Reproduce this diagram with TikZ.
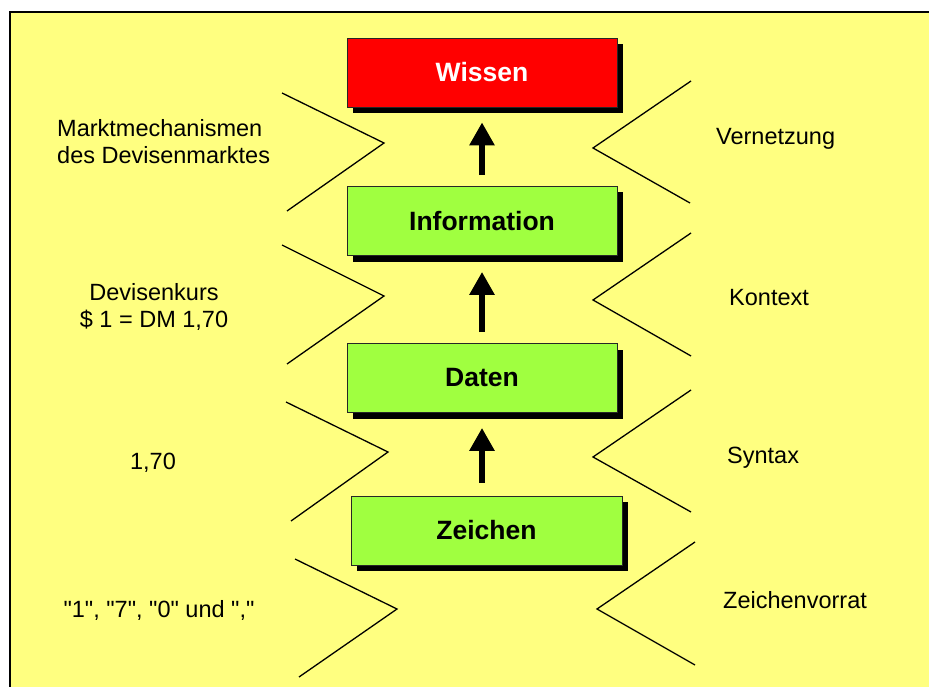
\documentclass[tikz,border=0pt]{standalone}
\usepackage{fontspec}
\setmainfont{Liberation Sans}
\usetikzlibrary{arrows.meta,shadows}
\definecolor{paper}{RGB}{255,255,128}
\definecolor{wissenred}{RGB}{255,0,0}
\definecolor{stufegreen}{RGB}{160,255,64}

\begin{document}
\begin{tikzpicture}[
        x=1pt,
        y=-1pt,
        stufe/.style={
            draw=black!85,
            line width=0.8pt,
            fill=stufegreen,
            minimum width=270pt,
            minimum height=69pt,
            inner sep=0pt,
            font=\fontsize{26.5}{30}\selectfont\bfseries,
            drop shadow={shadow xshift=6pt, shadow yshift=-6pt, fill=black, opacity=1},
        },
        hoch/.style={
            -{Triangle[width=24pt,length=23pt]},
            line width=6pt,
        },
        zacke/.style={
            line width=1.3pt,
        },
        notiz/.style={
            font=\fontsize{23.5}{27}\selectfont,
            inner sep=0pt,
        },
    ]
    \useasboundingbox (0,0) rectangle (929,687);
    \fill[paper] (10,12) rectangle (929,687);
    \draw[line width=1.3pt] (10,687) -- (10,12) -- (929,12);

    % Stufen
    \node[stufe, fill=wissenred, text=white] (wissen) at (482,72.5) {Wissen};
    \node[stufe] (info) at (482,221) {Information};
    \node[stufe] (daten) at (482,378) {Daten};
    \node[stufe, minimum width=271pt] (zeichen) at (486.5,530.5) {Zeichen};

    \draw[hoch, shorten <=11pt, shorten >=15pt] (info.north) -- (wissen.south);
    \draw[hoch, shorten <=11pt, shorten >=16pt] (daten.north) -- (info.south);
    \draw[hoch, shorten <=13pt, shorten >=15pt] (zeichen.north -| daten.north) -- (daten.south);

    % Zacken links und rechts
    \foreach \a/\b/\c/\d/\e/\f in {
            282/93/384/143/287/211,
            282/245/384/296/287/364,
            286/402/388/452/291/521,
            295/559/397/609/299/677,
            691/81/593/148/690/203,
            691/233/593/300/691/356,
            691/390/593/457/691/512,
            695/542/597/609/695/665} {
        \draw[zacke] (\a,\b) -- (\c,\d) -- (\e,\f);
    }

    % Beispiele links
    \node[notiz, align=left, anchor=west] (markt) at (57,142) {Marktmechanismen\\des Devisenmarktes};
    \node[notiz, align=center] (kurs) at (154,307) {Devisenkurs\\\$ 1 = DM 1,70};
    \node[notiz, anchor=base] (zahl) at (153,469) {1,70};
    \node[notiz, anchor=base] (ziffern) at (159,617) {\textquotedbl1\textquotedbl, \textquotedbl7\textquotedbl, \textquotedbl0\textquotedbl{} und \textquotedbl,\textquotedbl};

    % Begriffe rechts
    \node[notiz, anchor=base west] (vernetzung) at (716,145) {Vernetzung};
    \node[notiz, anchor=base west] (kontext) at (729,305) {Kontext};
    \node[notiz, anchor=base west] (syntax) at (727,463) {Syntax};
    \node[notiz, anchor=base west] (vorrat) at (723,608) {Zeichenvorrat};
\end{tikzpicture}
\end{document}
